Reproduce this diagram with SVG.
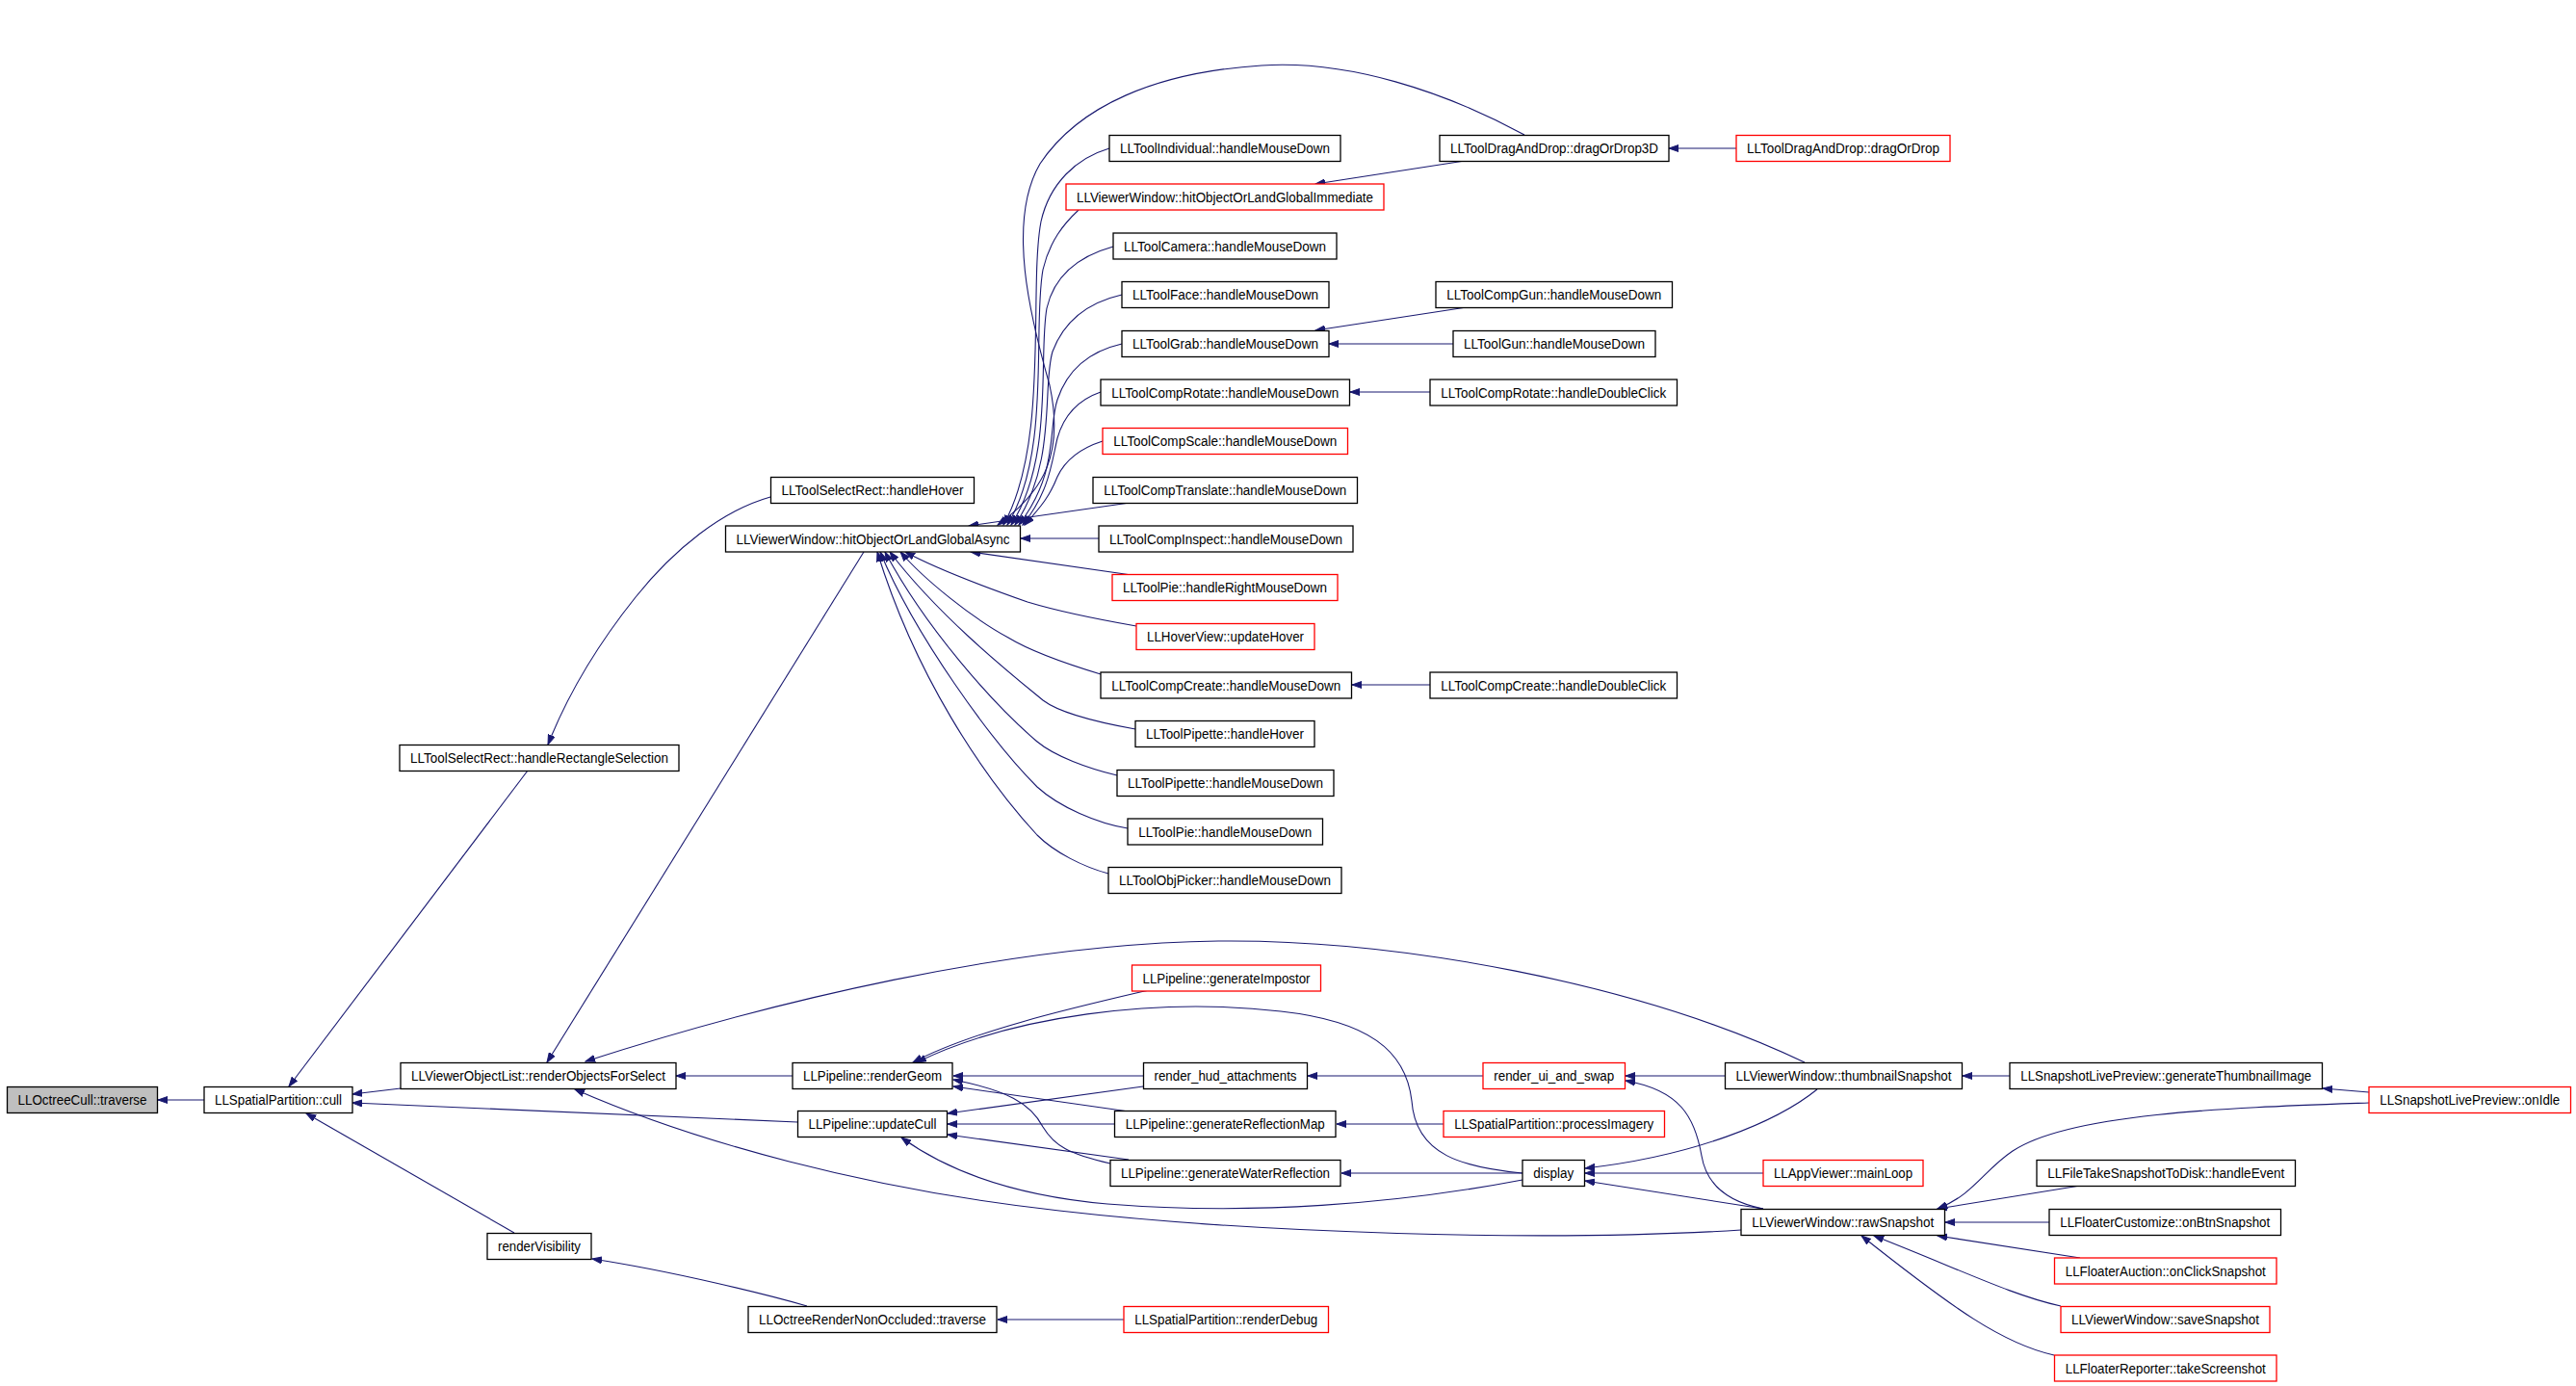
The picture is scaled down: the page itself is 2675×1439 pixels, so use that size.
<svg xmlns="http://www.w3.org/2000/svg" width="2675" height="1439" viewBox="0 0 2675 1439">
<defs>
<style>
.n rect{fill:#ffffff;stroke:#000000;stroke-width:1.3}
.n.r rect{stroke:#ff0000}
.n.g rect{fill:#bfbfbf}
.n text{font-family:"Liberation Sans",Arial,sans-serif;font-size:14px;text-anchor:middle;fill:#000000}
.e path{fill:none;stroke:#191970;stroke-width:1.1;marker-end:url(#a)}
</style>
<marker id="a" markerWidth="11" markerHeight="8" refX="10" refY="4" orient="auto" markerUnits="userSpaceOnUse">
<path d="M0,0.5 L10,4 L0,7.5 z" fill="#191970" stroke="#191970" stroke-width="1"/>
</marker>
</defs>
<rect x="0" y="0" width="2675" height="1439" fill="#ffffff"/>
<g id="edges" class="e">
<path d="M212,1142 L164,1142"/>
<path d="M416,1130 L366,1136"/>
<path d="M828,1165 L366,1145"/>
<path d="M548,800 L300,1128"/>
<path d="M534,1280 L318,1156"/>
<path d="M800,516 C750,530 700,570 660,620 C620,670 590,720 569,773"/>
<path d="M897,573 L568,1103"/>
<path d="M1874,1103 C1700,1020 1450,975 1265,977 C1050,980 800,1040 608,1102"/>
<path d="M1808,1277 C1600,1290 1300,1280 1100,1257 C900,1235 720,1185 597,1131"/>
<path d="M823,1117 L702,1117"/>
<path d="M1583,140 C1500,95 1400,62 1310,68 C1200,75 1120,110 1080,170 C1045,230 1070,330 1090,400 C1105,470 1085,510 1036,545"/>
<path d="M1152,154 C1118,164 1090,190 1081,230 C1068,300 1090,460 1042,545"/>
<path d="M1120,218 C1105,232 1090,250 1083,280 C1072,340 1092,470 1046,545"/>
<path d="M1156,256 C1120,266 1095,285 1087,320 C1078,370 1095,475 1050,545"/>
<path d="M1165,306 C1130,314 1105,333 1093,365 C1082,400 1098,480 1054,545"/>
<path d="M1165,357 C1130,365 1108,385 1098,415 C1088,445 1100,490 1058,545"/>
<path d="M1143,407 C1120,415 1105,430 1098,455 C1092,480 1090,510 1062,545"/>
<path d="M1145,458 C1120,466 1105,480 1098,495 C1090,515 1082,525 1064,545"/>
<path d="M1173,522 L1006,546"/>
<path d="M1141,559 L1060,559"/>
<path d="M1175,597 L1008,573"/>
<path d="M1180,650 C1140,643 1100,635 1067,625 C1030,612 975,592 940,573"/>
<path d="M1143,700 C1110,690 1070,676 1047,662 C1010,642 960,602 935,573"/>
<path d="M1179,757 C1140,750 1100,740 1083,727 C1050,700 975,640 924,573"/>
<path d="M1160,805 C1130,798 1095,785 1077,770 C1030,730 960,650 919,573"/>
<path d="M1171,860 C1140,855 1100,838 1077,817 C1030,770 950,660 914,573"/>
<path d="M1151,907 C1125,900 1095,885 1077,867 C1020,805 950,700 911,573"/>
<path d="M1803,154 L1733,154"/>
<path d="M1521,167 L1366,191"/>
<path d="M1523,319 L1366,343"/>
<path d="M1509,357 L1380,357"/>
<path d="M1485,407 L1402,407"/>
<path d="M1485,711 L1404,711"/>
<path d="M1187,1117 L990,1117"/>
<path d="M1193,1028 C1120,1045 1010,1070 948,1103"/>
<path d="M1581,1218 C1520,1212 1470,1200 1466,1143 C1460,1090 1420,1060 1330,1050 C1200,1035 1050,1055 952,1103"/>
<path d="M1172,1154 L990,1128"/>
<path d="M1153,1208 C1110,1198 1095,1190 1083,1170 C1070,1145 1045,1132 990,1121"/>
<path d="M1187,1128 L984,1156"/>
<path d="M1157,1167 L984,1167"/>
<path d="M1172,1204 L984,1178"/>
<path d="M1581,1225 C1450,1250 1300,1262 1150,1250 C1060,1242 990,1220 936,1181"/>
<path d="M1499,1167 L1388,1167"/>
<path d="M1581,1218 L1393,1218"/>
<path d="M1540,1117 L1358,1117"/>
<path d="M1167,1370 L1036,1370"/>
<path d="M838,1356 C800,1345 700,1320 615,1307"/>
<path d="M1791,1117 L1688,1117"/>
<path d="M1831,1255 C1795,1248 1772,1230 1767,1200 C1760,1160 1745,1132 1688,1122"/>
<path d="M1887,1131 C1845,1165 1760,1200 1646,1213"/>
<path d="M1831,1218 L1646,1218"/>
<path d="M1831,1255 L1646,1226"/>
<path d="M2087,1117 L2038,1117"/>
<path d="M2460,1134 L2412,1130"/>
<path d="M2460,1145 C2320,1150 2150,1155 2090,1195 C2060,1215 2050,1240 2012,1255"/>
<path d="M2160,1231 L2012,1255"/>
<path d="M2128,1269 L2020,1269"/>
<path d="M2160,1306 L2012,1283"/>
<path d="M2140,1356 C2090,1345 2040,1320 1946,1283"/>
<path d="M2133,1407 C2080,1395 2030,1360 1933,1283"/>
</g>
<g id="n1" class="n g"><rect x="7.5" y="1128.5" width="156" height="27"/><text x="85.5" y="1147" textLength="134" lengthAdjust="spacingAndGlyphs">LLOctreeCull::traverse</text></g>
<g id="n2" class="n"><rect x="212" y="1128.5" width="154" height="27"/><text x="289" y="1147" textLength="132" lengthAdjust="spacingAndGlyphs">LLSpatialPartition::cull</text></g>
<g id="n3" class="n"><rect x="416" y="1103.5" width="286" height="27"/><text x="559" y="1122" textLength="264" lengthAdjust="spacingAndGlyphs">LLViewerObjectList::renderObjectsForSelect</text></g>
<g id="n4" class="n"><rect x="506" y="1280.5" width="108" height="27"/><text x="560" y="1299" textLength="86" lengthAdjust="spacingAndGlyphs">renderVisibility</text></g>
<g id="n5" class="n"><rect x="777" y="1356.5" width="258" height="27"/><text x="906" y="1375" textLength="236" lengthAdjust="spacingAndGlyphs">LLOctreeRenderNonOccluded::traverse</text></g>
<g id="n6" class="n"><rect x="823" y="1103.5" width="166" height="27"/><text x="906" y="1122" textLength="144" lengthAdjust="spacingAndGlyphs">LLPipeline::renderGeom</text></g>
<g id="n7" class="n"><rect x="828.5" y="1153.5" width="155" height="27"/><text x="906" y="1172" textLength="133" lengthAdjust="spacingAndGlyphs">LLPipeline::updateCull</text></g>
<g id="n8" class="n"><rect x="415" y="773.5" width="290" height="27"/><text x="560" y="792" textLength="268" lengthAdjust="spacingAndGlyphs">LLToolSelectRect::handleRectangleSelection</text></g>
<g id="n9" class="n"><rect x="800.5" y="495.5" width="211" height="27"/><text x="906" y="514" textLength="189" lengthAdjust="spacingAndGlyphs">LLToolSelectRect::handleHover</text></g>
<g id="n10" class="n"><rect x="753.5" y="546" width="306" height="27"/><text x="906.5" y="564.5" textLength="284" lengthAdjust="spacingAndGlyphs">LLViewerWindow::hitObjectOrLandGlobalAsync</text></g>
<g id="n11" class="n"><rect x="1152" y="140.5" width="240" height="27"/><text x="1272" y="159" textLength="218" lengthAdjust="spacingAndGlyphs">LLToolIndividual::handleMouseDown</text></g>
<g id="n12" class="n r"><rect x="1107" y="191" width="330" height="27"/><text x="1272" y="209.5" textLength="308" lengthAdjust="spacingAndGlyphs">LLViewerWindow::hitObjectOrLandGlobalImmediate</text></g>
<g id="n13" class="n"><rect x="1156" y="242" width="232" height="27"/><text x="1272" y="260.5" textLength="210" lengthAdjust="spacingAndGlyphs">LLToolCamera::handleMouseDown</text></g>
<g id="n14" class="n"><rect x="1165" y="292.5" width="215" height="27"/><text x="1272.5" y="311" textLength="193" lengthAdjust="spacingAndGlyphs">LLToolFace::handleMouseDown</text></g>
<g id="n15" class="n"><rect x="1165" y="343.5" width="215" height="27"/><text x="1272.5" y="362" textLength="193" lengthAdjust="spacingAndGlyphs">LLToolGrab::handleMouseDown</text></g>
<g id="n16" class="n"><rect x="1143" y="394" width="258.5" height="27"/><text x="1272.25" y="412.5" textLength="236" lengthAdjust="spacingAndGlyphs">LLToolCompRotate::handleMouseDown</text></g>
<g id="n17" class="n r"><rect x="1145" y="444.5" width="254.5" height="27"/><text x="1272.25" y="463" textLength="232" lengthAdjust="spacingAndGlyphs">LLToolCompScale::handleMouseDown</text></g>
<g id="n18" class="n"><rect x="1135" y="495.5" width="274.5" height="27"/><text x="1272.25" y="514" textLength="252" lengthAdjust="spacingAndGlyphs">LLToolCompTranslate::handleMouseDown</text></g>
<g id="n19" class="n"><rect x="1141" y="546" width="264" height="27"/><text x="1273" y="564.5" textLength="242" lengthAdjust="spacingAndGlyphs">LLToolCompInspect::handleMouseDown</text></g>
<g id="n20" class="n r"><rect x="1155" y="596.5" width="234" height="27"/><text x="1272" y="615" textLength="212" lengthAdjust="spacingAndGlyphs">LLToolPie::handleRightMouseDown</text></g>
<g id="n21" class="n r"><rect x="1180" y="647.5" width="185" height="27"/><text x="1272.5" y="666" textLength="163" lengthAdjust="spacingAndGlyphs">LLHoverView::updateHover</text></g>
<g id="n22" class="n"><rect x="1143" y="698" width="260.5" height="27"/><text x="1273.25" y="716.5" textLength="238" lengthAdjust="spacingAndGlyphs">LLToolCompCreate::handleMouseDown</text></g>
<g id="n23" class="n"><rect x="1179" y="748.5" width="186" height="27"/><text x="1272" y="767" textLength="164" lengthAdjust="spacingAndGlyphs">LLToolPipette::handleHover</text></g>
<g id="n24" class="n"><rect x="1160" y="799.5" width="225" height="27"/><text x="1272.5" y="818" textLength="203" lengthAdjust="spacingAndGlyphs">LLToolPipette::handleMouseDown</text></g>
<g id="n25" class="n"><rect x="1171" y="850" width="202.5" height="27"/><text x="1272.25" y="868.5" textLength="180" lengthAdjust="spacingAndGlyphs">LLToolPie::handleMouseDown</text></g>
<g id="n26" class="n"><rect x="1151" y="900.5" width="242" height="27"/><text x="1272" y="919" textLength="220" lengthAdjust="spacingAndGlyphs">LLToolObjPicker::handleMouseDown</text></g>
<g id="n27" class="n"><rect x="1495" y="140.5" width="238" height="27"/><text x="1614" y="159" textLength="216" lengthAdjust="spacingAndGlyphs">LLToolDragAndDrop::dragOrDrop3D</text></g>
<g id="n28" class="n r"><rect x="1803" y="140.5" width="222" height="27"/><text x="1914" y="159" textLength="200" lengthAdjust="spacingAndGlyphs">LLToolDragAndDrop::dragOrDrop</text></g>
<g id="n29" class="n"><rect x="1491" y="292.5" width="245.5" height="27"/><text x="1613.75" y="311" textLength="223" lengthAdjust="spacingAndGlyphs">LLToolCompGun::handleMouseDown</text></g>
<g id="n30" class="n"><rect x="1509" y="343.5" width="210" height="27"/><text x="1614" y="362" textLength="188" lengthAdjust="spacingAndGlyphs">LLToolGun::handleMouseDown</text></g>
<g id="n31" class="n"><rect x="1485" y="394" width="256.5" height="27"/><text x="1613.25" y="412.5" textLength="234" lengthAdjust="spacingAndGlyphs">LLToolCompRotate::handleDoubleClick</text></g>
<g id="n32" class="n"><rect x="1485" y="698" width="256.5" height="27"/><text x="1613.25" y="716.5" textLength="234" lengthAdjust="spacingAndGlyphs">LLToolCompCreate::handleDoubleClick</text></g>
<g id="n33" class="n r"><rect x="1175.5" y="1002" width="196" height="27"/><text x="1273.5" y="1020.5" textLength="174" lengthAdjust="spacingAndGlyphs">LLPipeline::generateImpostor</text></g>
<g id="n34" class="n"><rect x="1187.5" y="1103.5" width="170" height="27"/><text x="1272.5" y="1122" textLength="148" lengthAdjust="spacingAndGlyphs">render_hud_attachments</text></g>
<g id="n35" class="n r"><rect x="1540" y="1103.5" width="147.5" height="27"/><text x="1613.75" y="1122" textLength="125" lengthAdjust="spacingAndGlyphs">render_ui_and_swap</text></g>
<g id="n36" class="n"><rect x="1157.5" y="1153.5" width="229.5" height="27"/><text x="1272.25" y="1172" textLength="207" lengthAdjust="spacingAndGlyphs">LLPipeline::generateReflectionMap</text></g>
<g id="n37" class="n r"><rect x="1499" y="1153.5" width="229.5" height="27"/><text x="1613.75" y="1172" textLength="207" lengthAdjust="spacingAndGlyphs">LLSpatialPartition::processImagery</text></g>
<g id="n38" class="n"><rect x="1153" y="1204.5" width="239" height="27"/><text x="1272.5" y="1223" textLength="217" lengthAdjust="spacingAndGlyphs">LLPipeline::generateWaterReflection</text></g>
<g id="n39" class="n"><rect x="1581" y="1204.5" width="64.5" height="27"/><text x="1613.25" y="1223" textLength="42" lengthAdjust="spacingAndGlyphs">display</text></g>
<g id="n40" class="n r"><rect x="1167" y="1356.5" width="212.5" height="27"/><text x="1273.25" y="1375" textLength="190" lengthAdjust="spacingAndGlyphs">LLSpatialPartition::renderDebug</text></g>
<g id="n41" class="n"><rect x="1791.5" y="1103.5" width="246" height="27"/><text x="1914.5" y="1122" textLength="224" lengthAdjust="spacingAndGlyphs">LLViewerWindow::thumbnailSnapshot</text></g>
<g id="n42" class="n"><rect x="2087" y="1103.5" width="324.5" height="27"/><text x="2249.25" y="1122" textLength="302" lengthAdjust="spacingAndGlyphs">LLSnapshotLivePreview::generateThumbnailImage</text></g>
<g id="n43" class="n r"><rect x="2460" y="1128.5" width="209.5" height="27"/><text x="2564.75" y="1147" textLength="187" lengthAdjust="spacingAndGlyphs">LLSnapshotLivePreview::onIdle</text></g>
<g id="n44" class="n r"><rect x="1831" y="1204.5" width="166" height="27"/><text x="1914" y="1223" textLength="144" lengthAdjust="spacingAndGlyphs">LLAppViewer::mainLoop</text></g>
<g id="n45" class="n"><rect x="2115" y="1204.5" width="268.5" height="27"/><text x="2249.25" y="1223" textLength="246" lengthAdjust="spacingAndGlyphs">LLFileTakeSnapshotToDisk::handleEvent</text></g>
<g id="n46" class="n"><rect x="1808" y="1255.5" width="211.5" height="27"/><text x="1913.75" y="1274" textLength="189" lengthAdjust="spacingAndGlyphs">LLViewerWindow::rawSnapshot</text></g>
<g id="n47" class="n"><rect x="2128" y="1255.5" width="240.5" height="27"/><text x="2248.25" y="1274" textLength="218" lengthAdjust="spacingAndGlyphs">LLFloaterCustomize::onBtnSnapshot</text></g>
<g id="n48" class="n r"><rect x="2133.5" y="1306" width="230.5" height="27"/><text x="2248.75" y="1324.5" textLength="208" lengthAdjust="spacingAndGlyphs">LLFloaterAuction::onClickSnapshot</text></g>
<g id="n49" class="n r"><rect x="2140" y="1356.5" width="217" height="27"/><text x="2248.5" y="1375" textLength="195" lengthAdjust="spacingAndGlyphs">LLViewerWindow::saveSnapshot</text></g>
<g id="n50" class="n r"><rect x="2133.5" y="1407" width="230.5" height="27"/><text x="2248.75" y="1425.5" textLength="208" lengthAdjust="spacingAndGlyphs">LLFloaterReporter::takeScreenshot</text></g>
</svg>
